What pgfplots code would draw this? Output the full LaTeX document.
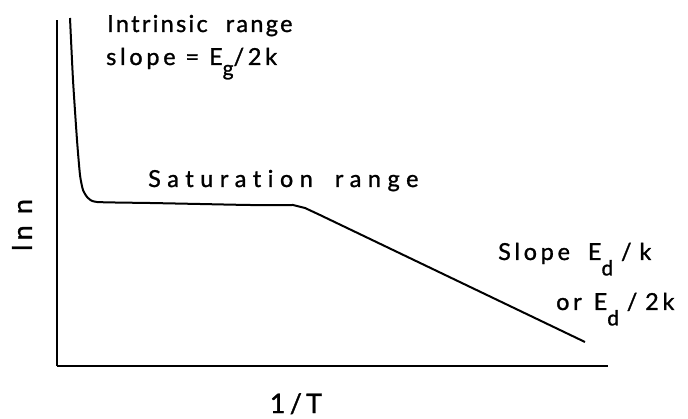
\documentclass[border=0pt]{standalone}
\usepackage{fontspec}
\setmainfont{Lato}[LetterSpace=16, FakeBold=1.2, Ligatures={NoCommon,NoRare,NoDiscretionary}]
\usepackage{pgfplots}
\pgfplotsset{compat=1.18}
\newcommand{\sub}[2][-0.9ex]{\raisebox{#1}{\fontsize{21}{21}\selectfont #2}}
\newcommand{\gap}[1][16bp]{\hspace{#1}}
\newcommand{\ls}[1]{\addfontfeature{LetterSpace=#1}}
\tikzset{lbl/.style={font=\fontsize{23.5}{23.5}\selectfont, inner sep=0pt}}
\begin{document}
\begin{tikzpicture}
\begin{axis}[
  scale only axis,
  width=551bp, height=346bp,
  xmin=57, xmax=608, ymin=53, ymax=399,
  axis lines=left,
  axis line style={line width=2.4bp, -},
  ticks=none,
  clip=false,
]
% ln n against 1/T for a doped semiconductor
\addplot[line width=2bp, black, smooth, tension=0.35] coordinates {
  (70,401) (73,339) (77,279) (80,244) (83,229) (88,221) (97,217)
  (150,216) (200,215) (250,214) (293,214)
};
\addplot[line width=2bp, black] coordinates {
  (293,214) (305,211) (320,204) (585,77)
};
\path (axis cs:0,0) rectangle (axis cs:688,419);
\node[lbl, anchor=base west] at (axis cs:107,387) {\ls{10}Intrinsic\gap[18bp]range};
\node[lbl, anchor=base west] at (axis cs:106,354) {slope\gap[10bp]=\gap[10bp]E\sub{g}/2k};
\node[lbl, anchor=base west] at (axis cs:148,232) {\ls{28}Saturation\gap[22bp]range};
\node[lbl, anchor=base west] at (axis cs:498,159) {Slope\gap[18bp]E\sub[-1.3ex]{d}\,\,/\,\,k};
\node[lbl, anchor=base west] at (axis cs:556,109) {or\hspace{12bp}E\sub[-1.3ex]{d}\,\,/\,\,2k};
\node[lbl, rotate=90, font=\fontsize{27}{27}\selectfont] at (axis cs:22,194) {ln n};
\node[lbl, anchor=base, font=\fontsize{27}{27}\selectfont] at (axis cs:296,6) {1/T};
\end{axis}
\end{tikzpicture}
\end{document}
